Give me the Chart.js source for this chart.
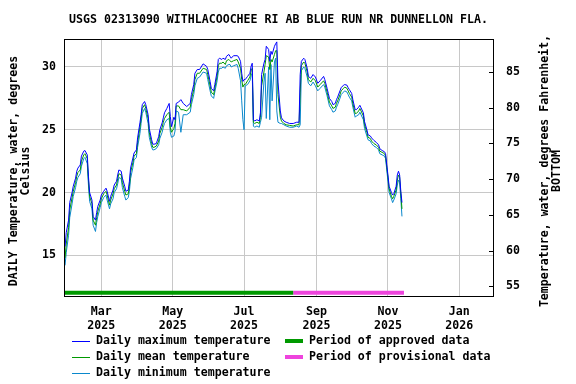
<!DOCTYPE html>
<html>
<head>
<meta charset="utf-8">
<script src="https://cdn.jsdelivr.net/npm/chart.js@4.4.1/dist/chart.umd.min.js"></script>
<style>
  body { margin: 0; background: #fff; }
  canvas { display: block; }
</style>
</head>
<body>
<canvas id="myChart" width="576" height="384"></canvas>
<script>
// days counted from 2025-01-01 (day 0)
const days = [
  28, 29, 31, 32, 34, 35, 37, 38, 39, 41,
  42, 44, 45, 47, 48, 49, 51, 52, 54, 55,
  56, 58, 59, 61, 63, 64, 66, 67, 69, 70,
  72, 73, 74, 76, 77, 79, 80, 82, 83, 84,
  86, 87, 89, 90, 92, 93, 94, 96, 97, 99,
  100, 102, 103, 104, 106, 108, 109, 111, 112, 113,
  115, 117, 118, 119, 121, 122, 123, 125, 127, 129,
  132, 135, 136, 138, 139, 141, 143, 146, 149, 150,
  152, 153, 155, 156, 158, 159, 160, 162, 163, 165,
  166, 168, 169, 170, 172, 175, 176, 178, 179, 180,
  181, 182, 184, 186, 187, 188, 189, 190, 192, 194,
  195, 196, 198, 199, 200, 202, 203, 204, 205, 207,
  208, 209, 210, 212, 213, 215, 217, 220, 223, 226,
  228, 229, 230, 232, 233, 235, 236, 238, 240, 242,
  244, 246, 249, 250, 252, 253, 254, 256, 257, 259,
  260, 261, 263, 264, 266, 267, 269, 270, 271, 273,
  274, 276, 277, 279, 280, 281, 283, 284, 286, 287,
  289, 290, 292, 294, 296, 297, 299, 301, 302, 303,
  304, 305, 307, 308, 309, 311, 312, 313, 314, 315, 316
];

const maxTemps = [
  15.7, 16.8, 17.8, 19.2, 20.0, 20.5, 21.15, 21.7, 21.95, 22.2,
  22.9, 23.3, 23.35, 23.0, 21.3, 20.0, 19.4, 18.1, 17.8, 18.4,
  18.9, 19.4, 19.8, 20.1, 20.35, 20.1, 19.3, 19.7, 20.2, 20.6,
  20.9, 21.4, 21.8, 21.7, 21.15, 20.5, 20.1, 20.2, 20.9, 21.95,
  22.75, 23.15, 23.4, 24.35, 25.55, 26.2, 27.0, 27.25, 27.0, 26.2,
  25.1, 24.2, 23.85, 23.85, 23.9, 24.45, 25.0, 25.55, 25.95, 26.35,
  26.7, 27.1, 26.05, 25.25, 26.0, 25.8, 27.1, 27.2, 27.4, 27.1,
  26.85, 27.1, 27.8, 28.6, 29.5, 29.8, 29.8, 30.25, 30.05, 29.8,
  28.85, 28.3, 28.1, 28.6, 29.65, 30.6, 30.7, 30.6, 30.7, 30.6,
  30.85, 31.0, 30.85, 30.7, 30.9, 30.9, 30.85, 30.45, 29.5, 28.85,
  29.0, 29.0, 29.25, 29.5, 30.05, 30.3, 25.8, 25.7, 25.8, 25.7,
  26.35, 29.4, 30.3, 30.6, 31.65, 31.4, 30.45, 31.25, 31.0, 31.65,
  31.85, 32.0, 28.8, 26.5, 25.95, 25.7, 25.6, 25.5, 25.5, 25.6,
  25.6, 29.4, 30.45, 30.7, 30.6, 29.9, 29.25, 29.1, 29.4, 29.2,
  28.7, 28.9, 29.25, 29.0, 28.3, 27.9, 27.5, 27.25, 27.0, 27.1,
  27.4, 27.6, 28.1, 28.35, 28.55, 28.6, 28.55, 28.35, 28.2, 27.9,
  27.4, 26.6, 26.6, 26.8, 26.95, 26.75, 26.35, 25.65, 25.0, 24.6,
  24.5, 24.35, 24.15, 24.0, 23.8, 23.5, 23.35, 23.25, 23.1, 22.2,
  21.4, 20.5, 20.0, 19.8, 19.9, 20.5, 21.4, 21.7, 21.4, 20.1, 19.2
];

const meanTemps = [
  14.8, 15.9, 17.2, 18.6, 19.6, 20.1, 20.8, 21.3, 21.6, 21.8,
  22.5, 23.0, 23.1, 22.7, 21.0, 19.7, 19.1, 17.8, 17.4, 18.0,
  18.5, 19.1, 19.5, 19.9, 20.1, 19.8, 19.0, 19.4, 19.9, 20.3,
  20.6, 21.1, 21.5, 21.4, 20.8, 20.1, 19.8, 19.9, 20.5, 21.6,
  22.4, 22.9, 23.1, 24.0, 25.2, 25.9, 26.7, 27.0, 26.7, 25.9,
  24.8, 23.9, 23.6, 23.6, 23.7, 24.1, 24.7, 25.2, 25.6, 25.9,
  26.2, 26.4, 25.2, 24.8, 25.1, 25.5, 26.9, 26.9, 26.6, 26.6,
  26.5, 26.8, 27.4, 28.2, 29.0, 29.5, 29.5, 29.9, 29.8, 29.4,
  28.5, 28.0, 27.8, 28.3, 29.3, 30.1, 30.3, 30.3, 30.4, 30.2,
  30.5, 30.6, 30.5, 30.4, 30.5, 30.6, 30.4, 29.9, 29.0, 28.4,
  28.6, 28.6, 28.9, 29.2, 29.7, 29.9, 25.6, 25.5, 25.6, 25.5,
  26.0, 28.5, 29.6, 30.2, 30.9, 30.8, 29.8, 30.6, 30.4, 31.0,
  31.3, 31.3, 27.8, 26.0, 25.7, 25.5, 25.4, 25.35, 25.3, 25.4,
  25.4, 28.0, 30.1, 30.4, 30.3, 29.6, 29.0, 28.8, 29.1, 28.9,
  28.4, 28.6, 28.9, 28.7, 28.0, 27.6, 27.2, 26.9, 26.7, 26.8,
  27.1, 27.3, 27.8, 28.1, 28.3, 28.4, 28.3, 28.1, 27.9, 27.6,
  27.1, 26.3, 26.3, 26.5, 26.7, 26.5, 26.1, 25.4, 24.8, 24.4,
  24.3, 24.1, 23.9, 23.8, 23.6, 23.3, 23.2, 23.1, 22.9, 22.0,
  21.2, 20.3, 19.7, 19.5, 19.7, 20.2, 21.0, 21.4, 21.2, 19.9, 18.7
];

const minTemps = [
  14.2, 15.2, 16.6, 18.0, 19.1, 19.7, 20.4, 20.9, 21.2, 21.5,
  22.1, 22.7, 22.8, 22.3, 20.6, 19.3, 18.7, 17.4, 16.9, 17.6,
  18.1, 18.8, 19.2, 19.6, 19.8, 19.4, 18.7, 19.1, 19.5, 20.0,
  20.3, 20.7, 21.2, 21.1, 20.4, 19.7, 19.4, 19.6, 20.1, 21.1,
  22.0, 22.6, 22.8, 23.6, 24.7, 25.5, 26.3, 26.7, 26.4, 25.5,
  24.4, 23.6, 23.4, 23.4, 23.5, 23.8, 24.3, 24.8, 25.2, 25.5,
  25.8, 25.9, 24.8, 24.4, 24.5, 24.9, 26.5, 26.4, 24.8, 26.2,
  26.2, 26.4, 27.0, 27.8, 28.5, 29.1, 29.2, 29.6, 29.5, 29.0,
  28.1, 27.7, 27.5, 28.0, 28.9, 29.6, 29.9, 29.9, 30.0, 29.9,
  30.1, 30.2, 30.2, 30.0, 30.1, 30.2, 29.9, 28.9, 27.3, 25.8,
  25.0, 28.5, 28.6, 28.9, 29.3, 29.5, 25.3, 25.2, 25.3, 25.2,
  25.6, 26.0, 28.8, 29.5, 25.9, 30.0, 25.8, 30.2, 27.3, 30.4,
  30.7, 26.5, 25.6, 25.5, 25.5, 25.4, 25.3, 25.2, 25.2, 25.3,
  25.2, 25.4, 29.7, 30.0, 29.9, 29.2, 28.7, 28.5, 28.8, 28.5,
  28.1, 28.3, 28.6, 28.4, 27.7, 27.3, 26.9, 26.6, 26.4, 26.5,
  26.8, 27.0, 27.5, 27.8, 28.0, 28.1, 28.0, 27.8, 27.6, 27.3,
  26.8, 26.0, 26.1, 26.2, 26.4, 26.2, 25.8, 25.1, 24.5, 24.2,
  24.1, 23.9, 23.7, 23.6, 23.4, 23.1, 23.0, 22.9, 22.7, 21.8,
  20.9, 20.0, 19.5, 19.2, 19.4, 19.9, 20.6, 21.0, 20.8, 19.5, 18.1
];

// data-status periods (start day, end day)
const approvedPeriod = [27.1, 223];
const provisionalPeriod = [223, 317.7];
const periodLevel = 12.02;

const tickDays = [59, 120, 181, 243, 304, 365];
const tickLabels = [
  ["Mar", "2025"], ["May", "2025"], ["Jul", "2025"],
  ["Sep", "2025"], ["Nov", "2025"], ["Jan", "2026"]
];
const celsiusTicks = [15, 20, 25, 30];
const fahrenheitTicks = [55, 60, 65, 70, 75, 80, 85];

const titleText = "USGS 02313090 WITHLACOOCHEE RI AB BLUE RUN NR DUNNELLON FLA.";
const leftTitle = ["DAILY Temperature, water, degrees", "Celsius"];
const rightTitle = ["Temperature, water, degrees Fahrenheit,", "BOTTOM"];

const FONT = "bold 11.6px 'DejaVu Sans Mono', monospace";
const fontOpt = { family: "'DejaVu Sans Mono', monospace", size: 11.6, weight: "bold" };
const gridColor = "#c8c8c8";

const toPoints = (vals) => days.map((d, i) => ({ x: d, y: vals[i] }));
const periodPoints = (p) => p.map((d) => ({ x: d, y: periodLevel }));

const lineSet = (label, vals, color) => ({
    label: label,
    data: toPoints(vals),
    borderColor: color,
    backgroundColor: color,
    borderWidth: 1,
    pointRadius: 0,
    tension: 0,
    fill: false,
    legendCol: 0,
});

const periodSet = (label, pts, color) => ({
    label: label,
    data: periodPoints(pts),
    borderColor: color,
    backgroundColor: color,
    borderWidth: 4,
    borderCapStyle: "butt",
    pointRadius: 0,
    fill: false,
    legendCol: 1,
});

// frame, right-axis ticks, titles and the two-column legend
const decorations = {
    id: "decorations",
    afterDraw(chart) {
        const ctx = chart.ctx;
        const area = chart.chartArea;
        ctx.save();

        ctx.strokeStyle = "#000";
        ctx.lineWidth = 1;
        ctx.strokeRect(Math.round(area.left) + 0.5, Math.round(area.top) + 0.5,
            Math.round(area.right - area.left), Math.round(area.bottom - area.top));

        const y2 = chart.scales.y2;
        ctx.beginPath();
        fahrenheitTicks.forEach((v) => {
            const py = Math.round(y2.getPixelForValue(v)) + 0.5;
            ctx.moveTo(area.right - 4, py);
            ctx.lineTo(area.right, py);
        });
        ctx.stroke();

        ctx.fillStyle = "#000";
        ctx.font = FONT;
        ctx.textAlign = "center";
        ctx.textBaseline = "middle";
        ctx.fillText(titleText, (area.left + area.right) / 2, 20);

        const drawRotated = (lines, x0, cy) => {
            ctx.save();
            ctx.translate(x0, cy);
            ctx.rotate(-Math.PI / 2);
            lines.forEach((t, i) => ctx.fillText(t, 0, i * 12));
            ctx.restore();
        };
        drawRotated(leftTitle, 14, 171);
        drawRotated(rightTitle, 545, 171);

        // legend
        const colX = [72, 285];
        const rowY = [341, 357, 373];
        const rowCount = [0, 0];
        ctx.textAlign = "left";
        chart.data.datasets.forEach((ds) => {
            const c = ds.legendCol;
            const x = colX[c];
            const y = rowY[rowCount[c]++];
            ctx.strokeStyle = ds.borderColor;
            ctx.lineWidth = ds.borderWidth;
            ctx.beginPath();
            const len = c === 0 ? 18 : 18;
            const yy = ds.borderWidth % 2 ? Math.round(y) + 0.5 : Math.round(y);
            ctx.moveTo(x, yy);
            ctx.lineTo(x + len, yy);
            ctx.stroke();
            ctx.fillText(ds.label, x + (c === 0 ? 24 : 24), y);
        });
        ctx.restore();
    },
};

const ctx = document.getElementById("myChart").getContext("2d");
const myChart = new Chart(ctx, {
    type: "line",
    data: {
        datasets: [
            lineSet("Daily maximum temperature", maxTemps, "#0000ff"),
            lineSet("Daily mean temperature", meanTemps, "#009900"),
            lineSet("Daily minimum temperature", minTemps, "#0a88cc"),
            periodSet("Period of approved data", approvedPeriod, "#009900"),
            periodSet("Period of provisional data", provisionalPeriod, "#ee44dd"),
        ],
    },
    options: {
        responsive: false,
        animation: false,
        devicePixelRatio: 1,
        layout: { padding: { top: 39, left: 0, right: 0, bottom: 0 } },
        plugins: {
            legend: { display: false },
            title: { display: false },
            tooltip: { enabled: false },
        },
        scales: {
            x: {
                type: "linear",
                position: "bottom",
                min: 27.1,
                max: 393.8,
                afterBuildTicks: (s) => { s.ticks = tickDays.map((v) => ({ value: v })); },
                afterFit: (s) => { s.height = 88; },
                ticks: {
                    callback: (v) => tickLabels[tickDays.indexOf(v)],
                    font: fontOpt,
                    color: "#000",
                    padding: 9,
                    maxRotation: 0,
                    autoSkip: false,
                },
                grid: { color: gridColor, drawTicks: false },
                border: { color: "#000" },
            },
            y: {
                type: "linear",
                position: "left",
                min: 11.76,
                max: 32.23,
                afterBuildTicks: (s) => { s.ticks = celsiusTicks.map((v) => ({ value: v })); },
                afterFit: (s) => { s.width = 64; },
                ticks: { font: fontOpt, color: "#000", padding: 8 },
                grid: { color: gridColor, drawTicks: false },
                border: { color: "#000" },
            },
            y2: {
                type: "linear",
                position: "right",
                min: 53.64,
                max: 89.62,
                afterBuildTicks: (s) => { s.ticks = fahrenheitTicks.map((v) => ({ value: v })); },
                afterFit: (s) => { s.width = 83; },
                ticks: { font: fontOpt, color: "#000", padding: 13 },
                grid: { drawOnChartArea: false, drawTicks: false },
                border: { color: "#000" },
            },
        },
    },
    plugins: [decorations],
});
</script>
</body>
</html>
